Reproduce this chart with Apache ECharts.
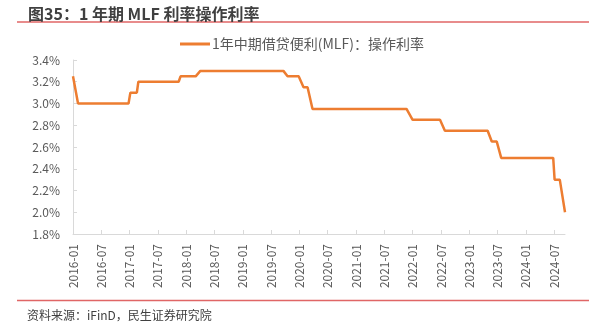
<!DOCTYPE html>
<html>
<head>
<meta charset="utf-8">
<script src="https://cdn.jsdelivr.net/npm/echarts@6/dist/echarts.min.js"></script>
<style>
html,body{margin:0;padding:0;background:#fff;}
#c{width:597px;height:329px;}
</style>
</head>
<body>
<div id="c"></div>
<script>
// Breakpoint dates of the series
var dates = [
  '2016-01-01','2016-02-03','2016-12-25','2017-01-06','2017-02-16','2017-02-25',
  '2017-11-13','2017-11-25','2018-03-01','2018-04-01','2019-09-19','2019-10-16',
  '2019-12-27','2020-01-28','2020-02-22','2020-03-25','2021-11-22','2022-01-01',
  '2022-06-25','2022-07-27','2023-04-28','2023-05-25','2023-06-26','2023-07-25',
  '2024-06-25','2024-07-04','2024-08-07','2024-09-10'
];
var rates = [
  3.25,3.00,3.00,3.10,3.10,3.20,
  3.20,3.25,3.25,3.30,3.30,3.25,
  3.25,3.15,3.15,2.95,2.95,2.85,
  2.85,2.75,2.75,2.65,2.65,2.50,
  2.50,2.30,2.30,2.00
];
var tickLabels = [
  '2016-01','2016-07','2017-01','2017-07','2018-01','2018-07','2019-01','2019-07',
  '2020-01','2020-07','2021-01','2021-07','2022-01','2022-07','2023-01','2023-07',
  '2024-01','2024-07'
];
var seriesName = '1年中期借贷便利(MLF)：操作利率';
var titleText = '图35：1 年期 MLF 利率操作利率';
var sourceText = '资料来源：iFinD，民生证券研究院';

function toMonths(s){
  var p = s.split('-').map(Number);
  var y = p[0], mo = p[1], d = p[2] || 1;
  var dim = new Date(y, mo, 0).getDate();
  return (y-2016)*12 + (mo-1) + (d-1)/dim;
}
function fmtMonth(v){
  var m = Math.round(v);
  var y = 2016 + Math.floor(m/12);
  var mo = (m % 12) + 1;
  return y + '-' + (mo < 10 ? '0' + mo : mo);
}
var data = dates.map(function(d,i){ return [toMonths(d), rates[i]]; });
var tickVals = tickLabels.map(toMonths);

var chart = echarts.init(document.getElementById('c'), null, {renderer:'canvas'});
var lab = '#595959';
chart.setOption({
  animation:false,
  backgroundColor:'#fff',
  title:{
    text:titleText, left:23, top:1,
    textStyle:{fontSize:16, fontWeight:'bold', color:'#404040', fontFamily:'Noto Sans CJK SC'}
  },
  legend:{
    data:[seriesName], left:175, top:32, icon:'rect', itemWidth:30, itemHeight:3, itemGap:10,
    itemStyle:{color:'#ED7D31'},
    textStyle:{fontSize:14, color:lab, fontFamily:'Noto Sans CJK SC', padding:[0,0,0,-3]}
  },
  grid:{left:73, right:32, top:60, bottom:95},
  xAxis:{
    type:'value', min:0, max:data[data.length-1][0],
    axisLine:{show:true, lineStyle:{color:'#d9d9d9', width:1}},
    axisTick:{show:true, inside:true, length:4, customValues:tickVals, lineStyle:{color:'#d9d9d9'}},
    axisLabel:{customValues:tickVals, rotate:90, margin:10, fontSize:12, color:lab,
      fontFamily:'Noto Sans CJK SC', formatter:function(v){return fmtMonth(v);}},
    splitLine:{show:false}
  },
  yAxis:{
    type:'value', min:1.8, max:3.4, interval:0.2,
    axisLine:{show:true, lineStyle:{color:'#d9d9d9', width:1}},
    axisTick:{show:true, inside:true, length:4, lineStyle:{color:'#d9d9d9'}},
    axisLabel:{fontSize:12, color:lab, margin:13, fontFamily:'Noto Sans CJK SC',
      formatter:function(v){return v.toFixed(1)+'%';}},
    splitLine:{show:false}
  },
  series:[{
    name:seriesName, type:'line', data:data, symbol:'none', showSymbol:false,
    lineStyle:{color:'#ED7D31', width:2.5}, itemStyle:{color:'#ED7D31'}
  }],
  graphic:[
    {type:'line', shape:{x1:17, y1:22, x2:589, y2:22}, style:{stroke:'#e06666', lineWidth:1.5}},
    {type:'line', shape:{x1:17, y1:300.5, x2:589, y2:300.5}, style:{stroke:'#e06666', lineWidth:1.5}},
    {type:'text', left:27, top:309, style:{text:sourceText, fontSize:12, fill:'#404040', fontFamily:'Noto Sans CJK SC'}}
  ]
});
</script>
</body>
</html>
